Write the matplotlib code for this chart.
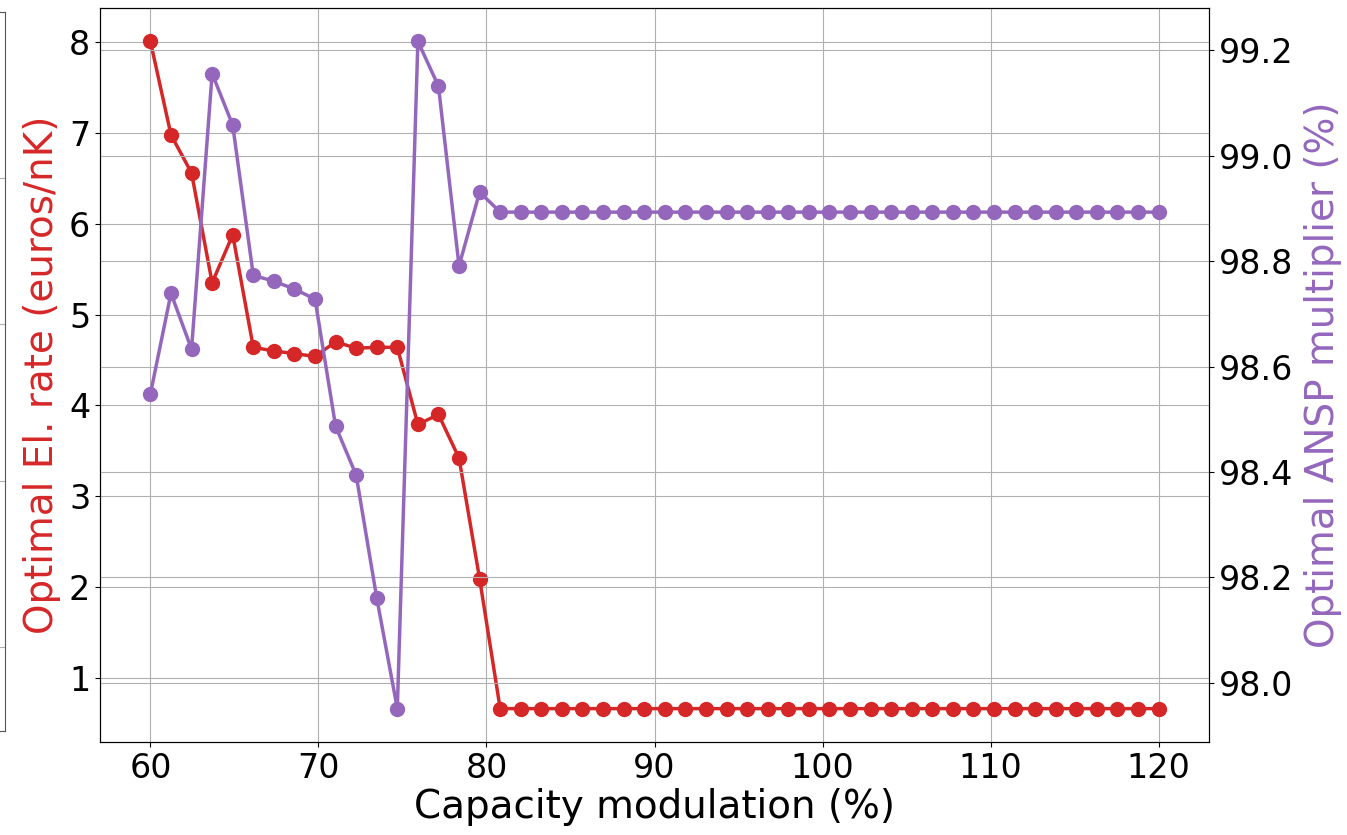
import numpy as np
import matplotlib
matplotlib.use("Agg")
import matplotlib.pyplot as plt

# capacity modulation (%) - 50 evenly spaced runs from 60 to 120
capacity = np.linspace(60, 120, 50)

# optimal El. rate (euros/nK)
el_rate = [8.01, 6.98, 6.56, 5.35, 5.88, 4.64, 4.60, 4.57, 4.54, 4.70,
           4.63, 4.64, 4.64, 3.79, 3.90, 3.42, 2.09] + [0.66] * 33

# optimal ANSP multiplier (%)
ansp_mult = [98.548, 98.739, 98.633, 99.156, 99.058, 98.773, 98.762, 98.747,
             98.728, 98.487, 98.394, 98.161, 97.951, 99.217, 99.132, 98.791,
             98.931] + [98.893] * 33

RED = '#d62728'
PURPLE = '#9467bd'
FS = 24      # tick labels
LFS = 28     # axis labels

fig = plt.figure(figsize=(13.47, 8.35), dpi=100)

# sliver of a neighbouring panel visible at the left edge
side = fig.add_axes([-0.2, 1 - 731 / 835, 0.2 + 5 / 1347, (731 - 12) / 835])
side.set_xlim(0, 1)
side.set_ylim(731, 12)
side.set_yticks([178, 324, 481, 647])
side.set_xticks([])
side.tick_params(left=False, labelleft=False)
side.grid(True, axis='y', color='#b0b0b0', linewidth=0.8)
for sp in side.spines.values():
    sp.set_color('#555555')

ax = fig.add_axes([100 / 1347, 1 - 742 / 835, (1209 - 100) / 1347, (742 - 8) / 835])
ax.plot(capacity, el_rate, color=RED, marker='o', linewidth=2.5, markersize=10)
ax.set_xlabel('Capacity modulation (%)', fontsize=LFS, labelpad=2)
ax.set_ylabel('Optimal El. rate (euros/nK)', fontsize=LFS, color=RED, labelpad=6)
ax.tick_params(axis='both', labelsize=FS)
ax.set_xticks([60, 70, 80, 90, 100, 110, 120])
ax.set_yticks([1, 2, 3, 4, 5, 6, 7, 8])
ax.grid(True)

ax2 = ax.twinx()
ax2.plot(capacity, ansp_mult, color=PURPLE, marker='o', linewidth=2.5, markersize=10)
ax2.set_ylabel('Optimal ANSP multiplier (%)', fontsize=LFS, color=PURPLE, labelpad=8)
ax2.set_yticks([98.0, 98.2, 98.4, 98.6, 98.8, 99.0, 99.2])
ax2.tick_params(axis='y', labelsize=FS)
ax2.grid(True)

fig.savefig('out.png', dpi=100)
